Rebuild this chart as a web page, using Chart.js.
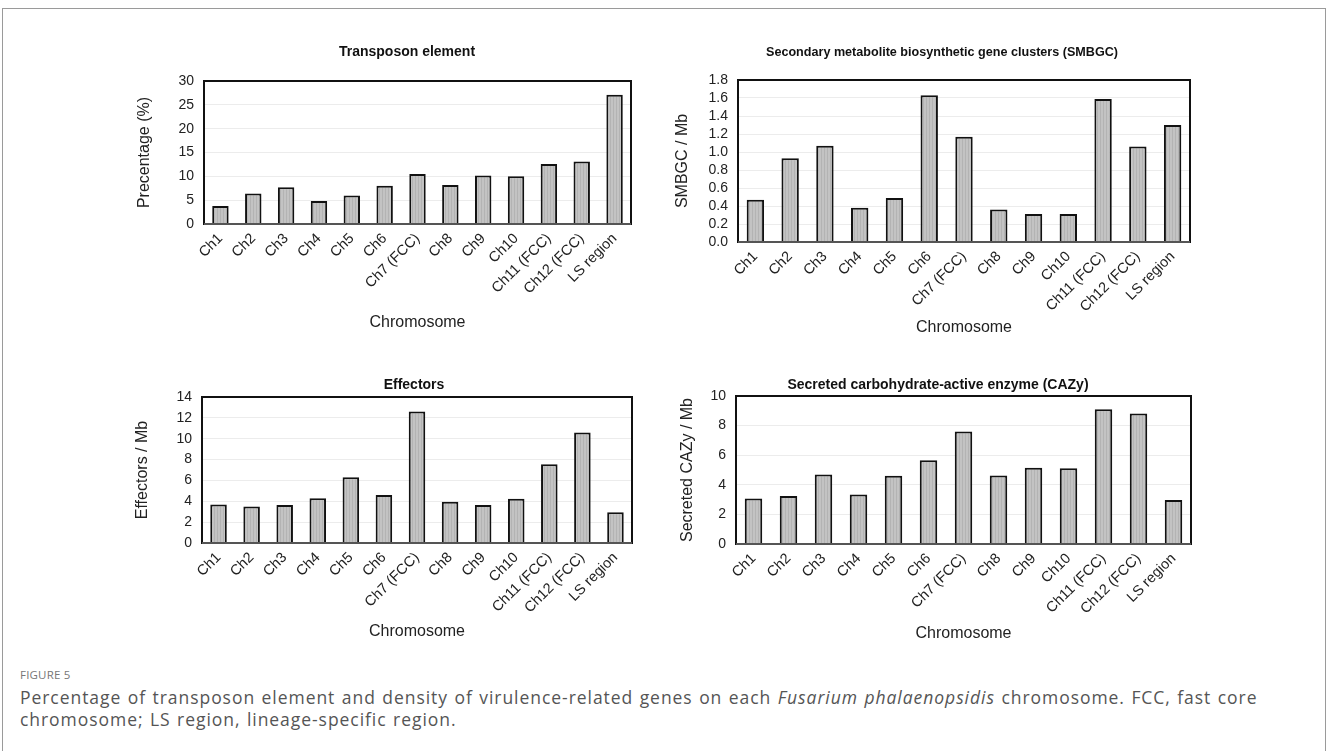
<!DOCTYPE html>
<html>
<head>
<meta charset="utf-8">
<script src="https://cdn.jsdelivr.net/npm/chart.js@4.4.1/dist/chart.umd.min.js"></script>
<style>
  body { margin: 0; background: #fff; width: 1328px; height: 751px; overflow: hidden; position: relative; }
  .frame { position: absolute; left: 2px; top: 8px; width: 1322px; height: 760px; border: 1px solid #9a9a9a; }
  canvas { position: absolute; }
  .fig { position: absolute; left: 20px; top: 667px; font: 11.5px "Open Sans", sans-serif; color: #777; letter-spacing: 0.2px; }
  .cap { position: absolute; left: 20px; top: 686px; width: 1305px; font: 17.5px/22px "Open Sans", sans-serif; color: #555; letter-spacing: 0.95px; word-spacing: 1px; white-space: nowrap; }
</style>
</head>
<body>
<div class="frame"></div>
<canvas id="c1" width="640" height="320" style="left:20px;top:30px"></canvas>
<canvas id="c2" width="560" height="320" style="left:660px;top:30px"></canvas>
<canvas id="c3" width="640" height="290" style="left:20px;top:360px"></canvas>
<canvas id="c4" width="560" height="290" style="left:660px;top:360px"></canvas>
<div class="fig">FIGURE 5</div>
<div class="cap">Percentage of transposon element and density of virulence-related genes on each <i>Fusarium phalaenopsidis</i> chromosome. FCC, fast core<br>chromosome; LS region, lineage-specific region.</div>
<script>
const categories = ['Ch1', 'Ch2', 'Ch3', 'Ch4', 'Ch5', 'Ch6', 'Ch7 (FCC)', 'Ch8', 'Ch9', 'Ch10', 'Ch11 (FCC)', 'Ch12 (FCC)', 'LS region'];

const transposonPct = [3.8, 6.4, 7.7, 4.8, 6.0, 8.0, 10.5, 8.2, 10.2, 10.0, 12.6, 13.1, 27.1];
const smbgcPerMb = [0.47, 0.93, 1.07, 0.38, 0.49, 1.63, 1.17, 0.36, 0.31, 0.31, 1.59, 1.06, 1.30];
const effectorsPerMb = [3.7, 3.5, 3.65, 4.3, 6.3, 4.6, 12.6, 3.95, 3.65, 4.25, 7.55, 10.6, 2.95];
const cazyPerMb = [3.08, 3.24, 4.7, 3.35, 4.61, 5.66, 7.6, 4.63, 5.15, 5.12, 9.1, 8.81, 2.97];

const FONT = '"Liberation Sans", Arial, sans-serif';

// fine vertical stripes like the excel fill
function stripePattern() {
  const p = document.createElement('canvas');
  p.width = 3; p.height = 4;
  const g = p.getContext('2d');
  g.fillStyle = '#c3c3c3';
  g.fillRect(0, 0, 3, 4);
  g.fillStyle = '#b3b3b3';
  g.fillRect(2, 0, 1, 4);
  return g.createPattern(p, 'repeat');
}

// title + plot frame
const framePlugin = {
  id: 'frame',
  afterDraw(chart, args, opts) {
    const { ctx, chartArea: a } = chart;
    ctx.save();
    ctx.strokeStyle = '#111';
    ctx.lineWidth = 2;
    ctx.strokeRect(a.left, a.top, a.right - a.left, a.bottom - a.top);
    ctx.strokeStyle = '#555';
    ctx.beginPath();
    ctx.moveTo(a.left, a.bottom);
    ctx.lineTo(a.right, a.bottom);
    ctx.stroke();
    ctx.fillStyle = '#111';
    ctx.font = 'bold ' + opts.size + 'px ' + FONT;
    ctx.textAlign = 'center';
    ctx.textBaseline = 'middle';
    ctx.fillText(opts.text, opts.x, opts.y);
    ctx.restore();
  }
};

function makeChart(id, values, cfg) {
  return new Chart(document.getElementById(id), {
    type: 'bar',
    data: {
      labels: categories,
      datasets: [{
        data: values,
        backgroundColor: stripePattern(),
        borderColor: '#111',
        borderWidth: 2,
        borderSkipped: 'bottom',
        barPercentage: 0.5,
        categoryPercentage: 1
      }]
    },
    options: {
      responsive: false,
      animation: false,
      layout: { padding: { top: cfg.padTop, right: cfg.padRight, left: 0, bottom: 0 } },
      plugins: {
        legend: { display: false },
        tooltip: { enabled: false },
        frame: cfg.title
      },
      scales: {
        x: {
          grid: { display: false, drawTicks: false },
          border: { display: false },
          ticks: { color: '#222', font: { family: FONT, size: 14.5 }, minRotation: 45, maxRotation: 45, padding: 6, autoSkip: false },
          title: { display: true, text: 'Chromosome', color: '#222', font: { family: FONT, size: 16 }, padding: { bottom: cfg.xTitlePad } },
          afterFit(s) { s.height = cfg.xHeight; }
        },
        y: {
          min: 0,
          max: cfg.max,
          grid: { color: '#ececec', lineWidth: 1, drawTicks: false },
          border: { display: false },
          ticks: {
            stepSize: cfg.step,
            autoSkip: false,
            color: '#222',
            font: { family: FONT, size: 14 },
            padding: 10,
            callback: cfg.fmt || (v => v)
          },
          title: { display: true, text: cfg.yTitle, color: '#222', font: { family: FONT, size: 16 }, padding: { top: cfg.yTitlePad } },
          afterFit(s) { s.width = cfg.yWidth; }
        }
      }
    },
    plugins: [framePlugin]
  });
}

makeChart('c1', transposonPct, {
  padTop: 51, padRight: 29, yWidth: 184, xHeight: 126, xTitlePad: 18, yTitlePad: 115,
  max: 30, step: 5, yTitle: 'Precentage (%)',
  title: { text: 'Transposon element', size: 14, x: 387, y: 22 }
});

makeChart('c2', smbgcPerMb, {
  padTop: 50, padRight: 30, yWidth: 78, xHeight: 108, xTitlePad: 13, yTitlePad: 13,
  max: 1.8, step: 0.2, yTitle: 'SMBGC / Mb', fmt: v => v.toFixed(1),
  title: { text: 'Secondary metabolite biosynthetic gene clusters (SMBGC)', size: 12.6, x: 282, y: 23 }
});

makeChart('c3', effectorsPerMb, {
  padTop: 37, padRight: 28, yWidth: 182, xHeight: 107, xTitlePad: 9, yTitlePad: 113,
  max: 14, step: 2, yTitle: 'Effectors / Mb',
  title: { text: 'Effectors', size: 14, x: 394, y: 25 }
});

makeChart('c4', cazyPerMb, {
  padTop: 36, padRight: 29, yWidth: 76, xHeight: 106, xTitlePad: 7, yTitlePad: 18,
  max: 10, step: 2, yTitle: 'Secreted CAZy / Mb',
  title: { text: 'Secreted carbohydrate-active enzyme (CAZy)', size: 14, x: 278, y: 25 }
});
</script>
</body>
</html>
